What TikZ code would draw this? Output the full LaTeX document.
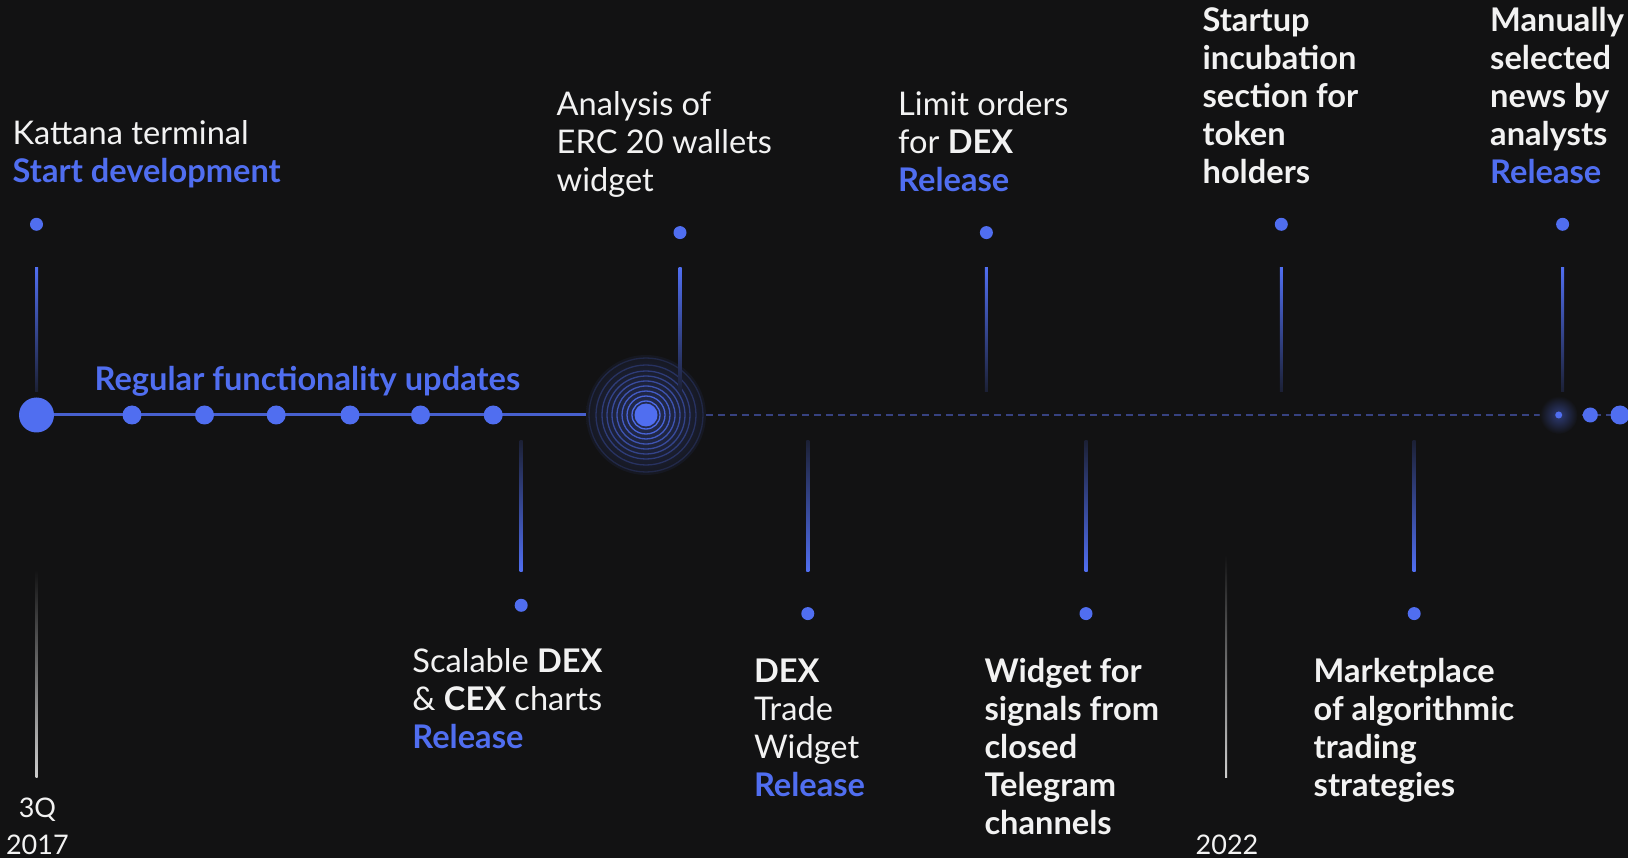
\documentclass[tikz,border=0pt]{standalone}
\usepackage{fontspec}
\setmainfont{Lato}
\definecolor{bg}{RGB}{18,18,19}
\definecolor{kblue}{RGB}{80,110,240}
\definecolor{ktext}{RGB}{242,242,242}
\definecolor{kdash}{RGB}{55,66,128}
\definecolor{kgray}{RGB}{205,205,205}
\newcommand\hl[1]{\textcolor{kblue}{\bfseries #1}}
\newcommand\blk[1]{\begin{tabular}[t]{@{}l@{}}#1\end{tabular}}
\begin{document}
\begin{tikzpicture}[x=1pt,y=-1pt,
  txt/.style={anchor=base west, inner sep=0pt, text=ktext, font=\fontsize{32.6}{38}\selectfont},
  btxt/.style={txt, font=\fontsize{32.6}{38}\selectfont\bfseries},
  yeartxt/.style={anchor=base, inner sep=0pt, text=ktext, font=\fontsize{27}{36}\selectfont},
  bigdot/.style={circle, fill=kblue, inner sep=0pt, minimum size=35pt},
  middot/.style={circle, fill=kblue, inner sep=0pt, minimum size=19pt},
  tipdot/.style={circle, fill=kblue, inner sep=0pt, minimum size=13pt},
  herodot/.style={circle, fill=kblue, inner sep=0pt, minimum size=23pt},
  upstem/.style={top color=kblue, bottom color=kblue!15!bg, draw=none},
  downstem/.style={top color=kblue!15!bg, bottom color=kblue, draw=none},
  yearline/.style={top color=bg, bottom color=kgray, draw=none},
  mainline/.style={kblue!85!bg, line width=3pt},
  dashline/.style={kdash, line width=2pt, dash pattern=on 7pt off 5pt}
]
\fill[bg] (0,0) rectangle (1628,858);
\useasboundingbox (0,0) rectangle (1628,858);

% --- coordinates of the timeline
\coordinate (start) at (36.5,415);
\coordinate (hero) at (646,415);
\coordinate (lineend) at (1628,415);
\coordinate (glow) at (1558.7,415);

% dashed and solid line
\draw[dashline] (hero) -- (lineend);
\draw[mainline] (start) -- (hero);

% hero glow and rings
\shade[inner color=kblue!32!bg, outer color=kblue!6!bg] (hero) circle (60pt);
\foreach \r/\o in {14/0.95,19/0.85,24/0.75,29/0.65,34/0.55,39/0.45,44/0.38,50/0.28,57/0.18}
  \draw[kblue, opacity=\o, line width=1.3pt] (hero) circle (\r pt);

% right glow
\shade[inner color=kblue!45!bg, outer color=bg] (glow) circle (19pt);

% upward stems
\foreach \x in {36.5,680,986.4,1281.3,1562.6}
  \shade[upstem] (\x-1.5,268) rectangle (\x+1.5,392);
% downward stems
\foreach \x in {521.2,807.8,1086,1414.2}
  \shade[downstem] (\x-1.5,440) rectangle (\x+1.5,571);
% year lines
\shade[yearline] (36.5-1,570) rectangle (36.5+1,777);
\shade[yearline] (1226-1,555) rectangle (1226+1,777);

% dots on the timeline
\node[bigdot] (d0) at (start) {};
\foreach \x [count=\i] in {132,204.5,276.2,350,420.5,493.2}
  \node[middot] (d\i) at (\x,415) {};
\node[herodot] (dh) at (hero) {};
\node[circle, fill=kblue, inner sep=0pt, minimum size=7pt] (g1) at (glow) {};
\node[circle, fill=kblue, inner sep=0pt, minimum size=15pt] (g2) at (1590.3,415) {};
\node[circle, fill=kblue, inner sep=0pt, minimum size=19pt] (g3) at (1620,415) {};

% tip dots
\node[tipdot] (u1) at (36.5,224.3) {};
\node[tipdot] (u2) at (680,232.6) {};
\node[tipdot] (u3) at (986.4,232.6) {};
\node[tipdot] (u4) at (1281.3,224.3) {};
\node[tipdot] (u5) at (1562.6,224.3) {};
\node[tipdot] (l1) at (521.2,605.3) {};
\node[tipdot] (l2) at (807.8,613.6) {};
\node[tipdot] (l3) at (1086,613.6) {};
\node[tipdot] (l4) at (1414.2,613.6) {};

% texts
\node[txt] (t1) at (12.5,144.3) {\blk{Kattana terminal\\ \hl{Start development}}};
\node[txt] (treg) at (94.5,390.4) {\hl{Regular functionality updates}};
\node[txt] (t2) at (556.5,115.3) {\blk{Analysis of\\ ERC 20 wallets\\ widget}};
\node[txt] (t3) at (898,115.3) {\blk{Limit orders\\ for \textbf{DEX}\\ \hl{Release}}};
\node[btxt] (t4) at (1202.4,31.1) {\blk{Startup\\ incubation\\ section for\\ token\\ holders}};
\node[btxt] (t5) at (1490,31.1) {\blk{Manually\\ selected\\ news by\\ analysts\\ \hl{Release}}};
\node[txt] (b1) at (412.2,672.8) {\blk{Scalable \textbf{DEX}\\ \& \textbf{CEX} charts\\ \hl{Release}}};
\node[txt] (b2) at (753.8,682.2) {\blk{\textbf{DEX}\\ Trade\\ Widget\\ \hl{Release}}};
\node[btxt] (b3) at (984.3,682.2) {\blk{Widget for\\ signals from\\ closed\\ Telegram\\ channels}};
\node[btxt] (b4) at (1313.5,682.2) {\blk{Marketplace\\ of algorithmic\\ trading\\ strategies}};

% years
\node[yeartxt] (y1a) at (37.4,817) {3Q};
\node[yeartxt] (y1b) at (37.4,854.5) {2017};
\node[yeartxt] (y2) at (1227,854.5) {2022};
\end{tikzpicture}
\end{document}
